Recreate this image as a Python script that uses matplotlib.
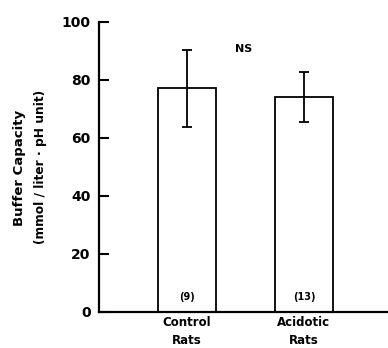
import numpy as np
import matplotlib.pyplot as plt

groups = ["Control\nRats", "Acidotic\nRats"]
means = [77, 74]
errors = [13.3, 8.7]
counts = ["(9)", "(13)"]
y_ticks = [0, 20, 40, 60, 80, 100]

plt.rcParams['font.family'] = 'DejaVu Sans'
plt.rcParams['font.weight'] = 'bold'

fig = plt.figure(figsize=(3.88, 3.48), dpi=100)
ax = fig.add_axes([99 / 388, 0.1043, 1 - 99 / 388, 0.8333])

x = np.arange(len(groups))
ax.bar(x, means, width=0.504, color='white', edgecolor='black', linewidth=1.3, zorder=2)
ax.errorbar(x, means, yerr=errors, fmt='none', ecolor='black', elinewidth=1.3,
            capsize=3.6, capthick=1.3, zorder=3)

for xi, c in zip(x, counts):
    ax.text(xi, 5, c, ha='center', va='center', fontsize=7, fontweight='bold')
ax.text(0.48, 90.7, "NS", ha='center', va='center', fontsize=8, fontweight='bold')

ax.set_xlim(-0.752, 1.718)
ax.set_ylim(0, 100)
ax.set_yticks(y_ticks)
ax.set_yticklabels([str(t) for t in y_ticks], fontsize=10, fontweight='bold')
ax.set_xticks(x)
ax.set_xticklabels(groups, fontsize=8.5, fontweight='bold', linespacing=1.5)
ax.tick_params(axis='x', length=0, pad=3)
ax.tick_params(axis='y', direction='in', length=7, width=1.5, pad=6)

ax.spines['top'].set_visible(False)
ax.spines['right'].set_visible(False)
ax.spines['left'].set_linewidth(1.6)
ax.spines['bottom'].set_linewidth(1.6)

fig.text(20 / 388, 1 - 168 / 348, "Buffer Capacity", rotation=90, ha='center', va='center',
         fontsize=9.5, fontweight='bold')
fig.text(41 / 388, 1 - 167 / 348, "(mmol / liter \u00b7 pH unit)", rotation=90, ha='center',
         va='center', fontsize=8.8, fontweight='bold')

fig.savefig("out.png", dpi=100)
